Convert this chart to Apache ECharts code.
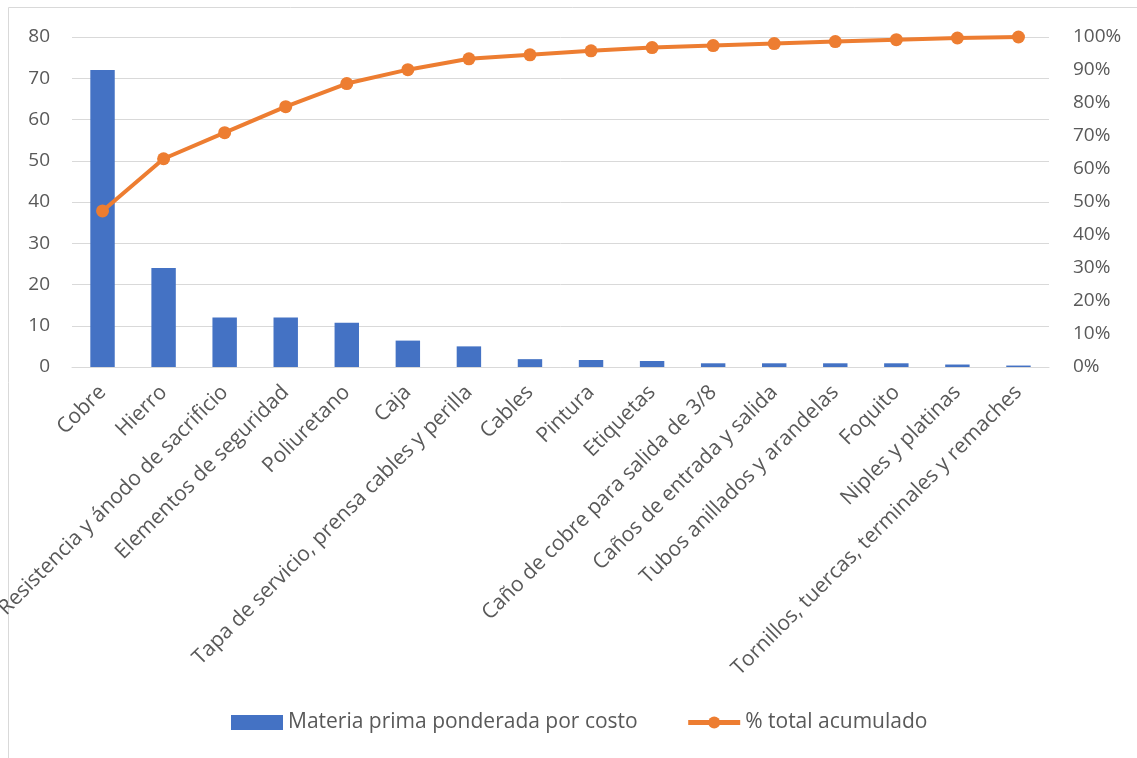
<!DOCTYPE html>
<html>
<head>
<meta charset="utf-8">
<script src="https://cdn.jsdelivr.net/npm/echarts@6/dist/echarts.min.js"></script>
<style>
html,body{margin:0;padding:0;background:#fff;}
#chart{width:1137px;height:758px;}
</style>
</head>
<body>
<div id="chart"></div>
<script>
const categories = ["Cobre","Hierro","Resistencia y ánodo de sacrificio","Elementos de seguridad","Poliuretano","Caja","Tapa de servicio, prensa cables y perilla","Cables","Pintura","Etiquetas","Caño de cobre para salida de 3/8","Caños de entrada y salida","Tubos anillados y arandelas","Foquito","Niples y platinas","Tornillos, tuercas, terminales y remaches"];
const materiaPrima = [72, 24, 12, 12, 10.75, 6.4, 5.0, 1.9, 1.7, 1.45, 0.9, 0.9, 0.9, 0.9, 0.6, 0.35];
const acumulado = [47.3, 63.1, 71.0, 78.9, 85.9, 90.1, 93.4, 94.6, 95.8, 96.8, 97.4, 98.0, 98.6, 99.2, 99.7, 100];
const leftTicks = {min: 0, max: 80, interval: 10};
const rightTicks = {min: 0, max: 100, interval: 10};

const FONT = "Open Sans";
const chart = echarts.init(document.getElementById('chart'), null, {renderer: 'canvas'});
chart.setOption({
  animation: false,
  textStyle: {fontFamily: FONT},
  graphic: [
    {type: 'line', shape: {x1: 8.5, y1: 7.5, x2: 1137, y2: 7.5}, style: {stroke: '#D9D9D9', lineWidth: 1}},
    {type: 'line', shape: {x1: 8.5, y1: 7.5, x2: 8.5, y2: 758}, style: {stroke: '#D9D9D9', lineWidth: 1}}
  ],
  grid: {left: 72, right: 88, top: 37, bottom: 391, containLabel: false, outerBoundsMode: 'none'},
  legend: {
    bottom: 20,
    left: 226,
    itemGap: 48,
    itemWidth: 52,
    itemHeight: 15,
    itemSymbolSize: 16,
    textStyle: {fontFamily: FONT, fontSize: 21, color: '#595959', padding: [0,0,0,0]},
    data: [
      {name: 'Materia prima ponderada por costo', icon: 'rect'},
      {name: '% total acumulado', lineStyle: {width: 5}}
    ]
  },
  xAxis: {
    type: 'category',
    data: categories,
    axisTick: {show: false},
    axisLine: {show: true, lineStyle: {color: '#D9D9D9', width: 1}},
    axisLabel: {rotate: 45, interval: 0, fontFamily: FONT, fontSize: 21, color: '#595959', margin: 22}
  },
  yAxis: [
    {
      type: 'value', min: leftTicks.min, max: leftTicks.max, interval: leftTicks.interval,
      axisLine: {show: false}, axisTick: {show: false},
      splitLine: {lineStyle: {color: '#D9D9D9', width: 1}},
      axisLabel: {fontFamily: FONT, fontSize: 19, color: '#595959', margin: 22}
    },
    {
      type: 'value', min: rightTicks.min, max: rightTicks.max, interval: rightTicks.interval,
      axisLine: {show: false}, axisTick: {show: false},
      splitLine: {show: false},
      axisLabel: {fontFamily: FONT, fontSize: 19, color: '#595959', margin: 24, formatter: '{value}%'}
    }
  ],
  series: [
    {
      name: 'Materia prima ponderada por costo',
      type: 'bar',
      data: materiaPrima,
      barWidth: '40%',
      itemStyle: {color: '#4472C4'},
      yAxisIndex: 0
    },
    {
      name: '% total acumulado',
      type: 'line',
      data: acumulado,
      yAxisIndex: 1,
      symbol: 'circle',
      symbolSize: 13,
      lineStyle: {color: '#ED7D31', width: 4},
      itemStyle: {color: '#ED7D31'}
    }
  ]
});
</script>
</body>
</html>
